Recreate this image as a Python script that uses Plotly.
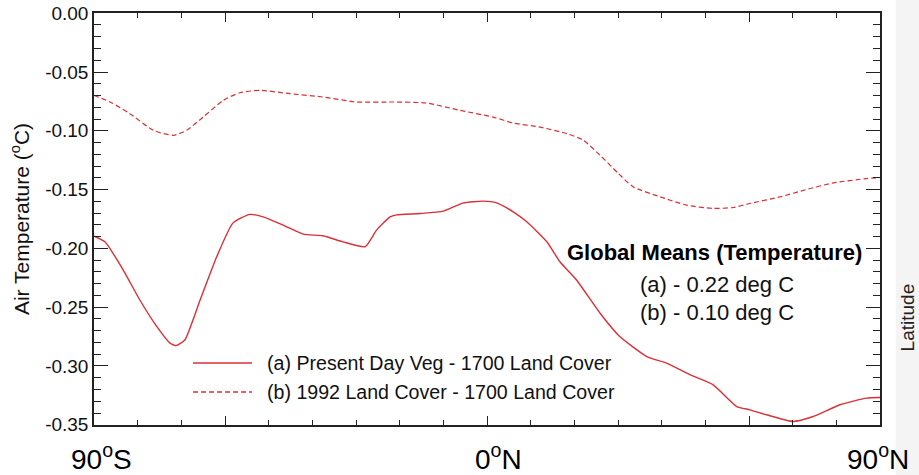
import plotly.graph_objects as go

# ---- data ----
LAT_A = [-90, -87.5, -83.3, -79.5, -75.6, -72.6, -71.2, -69.2, -65.7, -61.9, -58.2, -54.3,
         -51.3, -46.7, -42.1, -37.6, -33.0, -27.9, -25.3, -22.2, -20.7, -15.3, -10.0, -5.4,
         -0.85, 2.2, 6.0, 9.1, 13.7, 16.7, 20.5, 25.9, 30.4, 36.6, 41.1, 46.6, 51.8, 57.2,
         60.2, 64.0, 70.1, 74.7, 80.8, 86.9, 90]
TEMP_A = [-0.1896, -0.1944, -0.2184, -0.2439, -0.2666, -0.2806, -0.2827, -0.2779, -0.2439,
          -0.2071, -0.1785, -0.1711, -0.1732, -0.1802, -0.1879, -0.1893, -0.1944, -0.1986,
          -0.1845, -0.1732, -0.1715, -0.1703, -0.1683, -0.1613, -0.1598, -0.1613, -0.1689,
          -0.1774, -0.1944, -0.2114, -0.2269, -0.2552, -0.2750, -0.2920, -0.2976, -0.3076,
          -0.3160, -0.3345, -0.3373, -0.3415, -0.3472, -0.3430, -0.3330, -0.3273, -0.3268]

LAT_B = [-90, -86.3, -81.8, -76.4, -71.8, -68.8, -65.0, -60.4, -56.6, -52.0, -45.1, -37.5,
         -29.8, -21.5, -13.8, -6.2, 1.4, 6.0, 12.1, 18.3, 22.1, 25.9, 30.1, 33.5, 39.7,
         45.7, 51.8, 56.4, 60.2, 67.1, 73.2, 79.3, 87.0, 90]
TEMP_B = [-0.0699, -0.0755, -0.0854, -0.0996, -0.1038, -0.0996, -0.0883, -0.0741, -0.0676,
          -0.0656, -0.0684, -0.0713, -0.0755, -0.0755, -0.0764, -0.0826, -0.0883, -0.0934,
          -0.0968, -0.1024, -0.1081, -0.1208, -0.1363, -0.1477, -0.1562, -0.1632, -0.1660,
          -0.1652, -0.1618, -0.1562, -0.1499, -0.1443, -0.1406, -0.1397]

SERIES_NAMES = ["(a) Present Day Veg - 1700 Land Cover",
                "(b) 1992 Land Cover - 1700 Land Cover"]
Y_TICKS = [0.00, -0.05, -0.10, -0.15, -0.20, -0.25, -0.30, -0.35]
X_LABEL_VALS = [-90, 0, 90]
X_LABEL_TEXT = ["90<sup>o</sup>S", "0<sup>o</sup>N", "90<sup>o</sup>N"]
MEANS_TITLE = "<b>Global Means (Temperature)</b>"
MEANS_LINES = ["(a) - 0.22 deg C", "(b) - 0.10 deg C"]

RED = "#dc2f36"
FONT = "Liberation Sans, Arial, Helvetica, sans-serif"

fig = go.Figure()
fig.add_trace(go.Scatter(x=LAT_A, y=TEMP_A, mode="lines", name=SERIES_NAMES[0],
                         line=dict(color=RED, width=1.4, shape="spline", smoothing=0.5)))
fig.add_trace(go.Scatter(x=LAT_B, y=TEMP_B, mode="lines", name=SERIES_NAMES[1],
                         line=dict(color=RED, width=1.2, dash="5px,3px", shape="spline",
                                   smoothing=0.6)))

# light grey strip at far right (as in reference)
fig.add_shape(type="rect", xref="paper", yref="paper", x0=1.02, x1=1.06, y0=-0.2, y1=1.05,
              fillcolor="#f4f4f4", line=dict(width=0), layer="below")

# legend drawn by hand
leg_y = [0.1505, 0.080]
dashes = ["solid", "5px,3px"]
for name, yy, d in zip(SERIES_NAMES, leg_y, dashes):
    fig.add_shape(type="line", xref="paper", yref="paper", x0=0.126, x1=0.201, y0=yy, y1=yy,
                  line=dict(color=RED, width=1.4, dash=d))
    fig.add_annotation(xref="paper", yref="paper", x=0.2176, y=yy, text=name,
                       showarrow=False, xanchor="left", yanchor="middle",
                       font=dict(size=19.6, color="#111", family=FONT))

# global means text
fig.add_annotation(xref="paper", yref="paper", x=0.789, y=0.4175, text=MEANS_TITLE,
                   showarrow=False, xanchor="center", yanchor="middle",
                   font=dict(size=22, color="#000", family=FONT))
for txt, yy in zip(MEANS_LINES, [0.342, 0.272]):
    fig.add_annotation(xref="paper", yref="paper", x=0.792, y=yy, text=txt,
                       showarrow=False, xanchor="center", yanchor="middle",
                       font=dict(size=22, color="#111", family=FONT))

# x labels
for v, t, sh in zip(X_LABEL_VALS, X_LABEL_TEXT, [7, 11, -2]):
    fig.add_annotation(xref="x", yref="paper", x=v, y=-0.078, text=t, showarrow=False,
                       xanchor="center", yanchor="middle", xshift=sh,
                       font=dict(size=28, color="#000", family=FONT))

# Latitude label (right edge)
fig.add_annotation(xref="paper", yref="paper", x=1.035, y=0.26, text="Latitude",
                   textangle=-90, showarrow=False, xanchor="center", yanchor="middle",
                   font=dict(size=19, color="#222", family=FONT))

fig.update_xaxes(range=[-90, 90], showline=True, linecolor="#222", linewidth=1.5,
                 mirror="ticks", ticks="inside", ticklen=9, tickwidth=1.2, tickcolor="#222",
                 tick0=0, dtick=60, showticklabels=False, showgrid=False, zeroline=False,
                 minor=dict(ticks="inside", ticklen=5, tickwidth=1, tickcolor="#222",
                            tick0=0, dtick=10, showgrid=False))
fig.update_yaxes(range=[-0.3502, 0.0002], showline=True, linecolor="#222", linewidth=1.5,
                 mirror="ticks", ticks="inside", ticklen=14, tickwidth=1.2, tickcolor="#222",
                 tickmode="array", tickvals=Y_TICKS, ticktext=[f"{v:.2f}" for v in Y_TICKS],
                 tickfont=dict(size=19, color="#111", family=FONT),
                 showgrid=False, zeroline=False, automargin=False,
                 title=dict(text="Air Temperature (<sup>o</sup>C)", standoff=10,
                            font=dict(size=21, color="#111", family=FONT)),
                 minor=dict(ticks="inside", ticklen=7, tickwidth=1, tickcolor="#222",
                            tick0=0, dtick=0.01, showgrid=False))

fig.update_layout(width=919, height=475, margin=dict(l=94, r=39, t=13, b=50),
                  paper_bgcolor="white", plot_bgcolor="white", showlegend=False,
                  font=dict(family=FONT))

fig.write_html("out.html")
